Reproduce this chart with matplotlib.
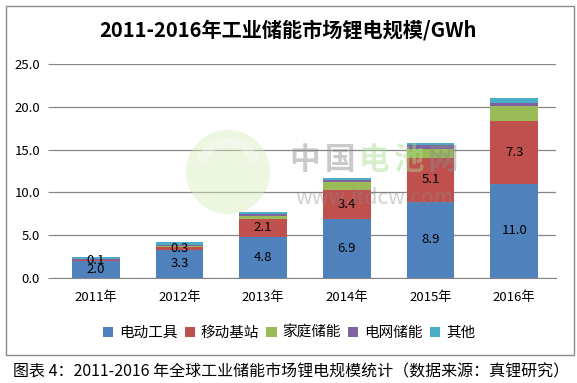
import matplotlib
matplotlib.use('Agg')
import matplotlib.pyplot as plt
from matplotlib.patches import Rectangle, Circle, Wedge
import numpy as np

plt.rcParams['font.family'] = ['Noto Sans CJK SC', 'DejaVu Sans']

# 数据
years = ['2011年', '2012年', '2013年', '2014年', '2015年', '2016年']
dian_dong = [2.0, 3.3, 4.8, 6.9, 8.9, 11.0]      # 电动工具
yi_dong = [0.1, 0.3, 2.1, 3.4, 5.1, 7.3]         # 移动基站
jia_ting = [0.05, 0.1, 0.3, 0.9, 1.1, 1.8]       # 家庭储能
dian_wang = [0.1, 0.1, 0.3, 0.2, 0.4, 0.4]       # 电网储能
qi_ta = [0.2, 0.4, 0.2, 0.3, 0.3, 0.5]           # 其他

series = [dian_dong, yi_dong, jia_ting, dian_wang, qi_ta]
names = ['电动工具', '移动基站', '家庭储能', '电网储能', '其他']
colors = ['#4F81BD', '#C0504D', '#9BBB59', '#8064A2', '#4BACC6']

W, H = 577, 383
fig = plt.figure(figsize=(W / 100, H / 100), dpi=100)

# 外框
fig.patches.append(Rectangle((5.5 / W, (H - 355) / H), (574 - 5.5) / W, (355 - 5.5) / H,
                             transform=fig.transFigure, fill=False,
                             edgecolor='#8c8c8c', linewidth=1.0))

ax = fig.add_axes([54 / W, (H - 278) / H, (556 - 54) / W, (278 - 64) / H])

x = np.arange(len(years))
bottom = np.zeros(len(years))
for i, (vals, name, c) in enumerate(zip(series, names, colors)):
    bars = ax.bar(x, vals, 0.57, bottom=bottom, color=c, label=name, zorder=3)
    if i < 2:
        ax.bar_label(bars, labels=['%.1f' % v for v in vals], label_type='center',
                     fontsize=9.5, color='black', zorder=8)
    bottom += np.array(vals)

ax.set_ylim(0, 25)
ax.set_xlim(-0.5, 5.5)
ax.set_yticks(np.arange(0, 26, 5))
ax.set_yticklabels(['%.1f' % v for v in np.arange(0, 26, 5)], fontsize=9.5)
ax.set_xticks(x)
ax.set_xticklabels(years, fontsize=9.5)
ax.yaxis.grid(True, color='#868686', linewidth=0.9, zorder=0)
for s in ['top', 'right', 'left']:
    ax.spines[s].set_visible(False)
ax.spines['bottom'].set_color('#868686')
ax.tick_params(axis='y', length=4, color='#868686', pad=6)
ax.tick_params(axis='x', length=0, pad=9)

# 水印 (中国电池网)
wm = fig.add_axes([0, 0, 1, 1], zorder=5)
wm.set_xlim(0, W)
wm.set_ylim(H, 0)
wm.axis('off')
wm.add_patch(Circle((228, 172), 42, facecolor='#d6edbd', edgecolor='none', alpha=0.45))
wm.add_patch(Wedge((228, 172), 34, 200, 340, width=9, facecolor='white', alpha=0.35))
wm_chars = ['中', '国', '电', '池', '网']
wm_cols = ['#8a8a8a', '#8a8a8a', '#a7dd8c', '#a7dd8c', '#8a8a8a']
for k, (ch, cc) in enumerate(zip(wm_chars, wm_cols)):
    wm.text(305 + 34.5 * k, 160, ch, fontsize=22, color=cc, alpha=0.45,
            ha='center', va='center', fontweight='bold')
wm.text(374, 198, 'www.itdcw.com', fontsize=15, color='#8a8a8a', alpha=0.4,
        ha='center', va='center')

fig.text(0.5, (H - 30) / H, '2011-2016年工业储能市场锂电规模/GWh', ha='center', va='center',
         fontsize=14.5, fontweight='bold')

ax.legend(loc='center', bbox_to_anchor=(289 / W, (H - 333) / H), bbox_transform=fig.transFigure,
          ncol=5, frameon=False, fontsize=10.5, handlelength=0.7, handleheight=0.7,
          handletextpad=0.4, columnspacing=0.5)

fig.text(13 / W, (H - 372) / H, '图表 4：2011-2016 年全球工业储能市场锂电规模统计（数据来源：真锂研究）',
         ha='left', va='center', fontsize=11.5)

fig.savefig('out.png', dpi=100)
